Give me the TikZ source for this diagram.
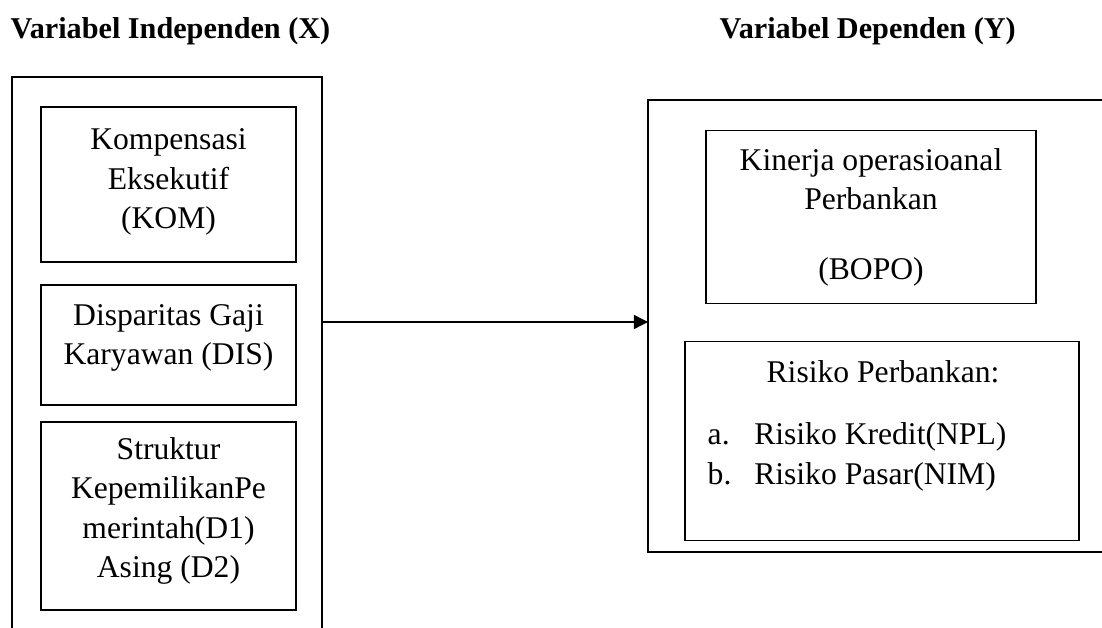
\documentclass[tikz,border=0pt]{standalone}
\usepackage{fontspec}
\setmainfont{Liberation Serif}
\usetikzlibrary{arrows.meta}

\begin{document}
\begin{tikzpicture}[x=0.02cm,y=-0.02cm,line width=0.8pt,
		varbox/.style={draw,rectangle,inner sep=0pt},
		vartext/.style={align=center,inner sep=0pt,font=\fontsize{18}{22.5}\selectfont},
		judul/.style={anchor=west,inner sep=0pt,font=\fontsize{17.2}{21}\selectfont\bfseries}]
				\useasboundingbox (0,0) rectangle (1102,628);
				% judul
				\node[judul] (jx) at (10,31) {Variabel Independen (X)};
				\node[judul] (jy) at (719,31) {Variabel Dependen (Y)};
				% kotak luar
				\draw (12,628) -- (12,77) -- (322,77) -- (322,628);
				\draw (1102,100) -- (648,100) -- (648,552) -- (1102,552);
				\coordinate (xout) at (322,322);
				\coordinate (yin) at (648,322);
				% variabel X
				\node[varbox,minimum width=5.1cm,minimum height=3.1cm] (kom) at (168.5,184.5) {};
				\node[varbox,minimum width=5.1cm,minimum height=2.4cm] (dis) at (168.5,345) {};
				\node[varbox,minimum width=5.1cm,minimum height=3.76cm] (struk) at (168.5,516) {};
				\node[vartext] (komt) at (168.5,182) {Kompensasi\\Eksekutif\\(KOM)};
				\node[vartext] (dist) at (168.5,338) {Disparitas Gaji\\Karyawan (DIS)};
				\node[vartext] (strukt) at (168.5,511) {Struktur\\KepemilikanPe\\merintah(D1)\\Asing (D2)};
				% variabel Y
				\node[varbox,minimum width=6.6cm,minimum height=3.46cm] (bopo) at (871,217) {};
				\node[varbox,minimum width=7.88cm,minimum height=3.98cm] (risk) at (882,441) {};
				\node[vartext] (bopot) at (871,217) {Kinerja operasioanal\\Perbankan\\[17pt](BOPO)};
				\node[vartext] (riskt) at (883,372) {Risiko Perbankan:};
				\node[vartext,align=left,anchor=west] (riskl) at (707,457)
					{\makebox[26.5pt][l]{a.}Risiko Kredit(NPL)\\\makebox[26.5pt][l]{b.}Risiko Pasar(NIM)};
				% panah
				\draw[-{Triangle[length=8pt,width=8pt]}] (xout) -- (yin);
			\end{tikzpicture}
\end{document}
